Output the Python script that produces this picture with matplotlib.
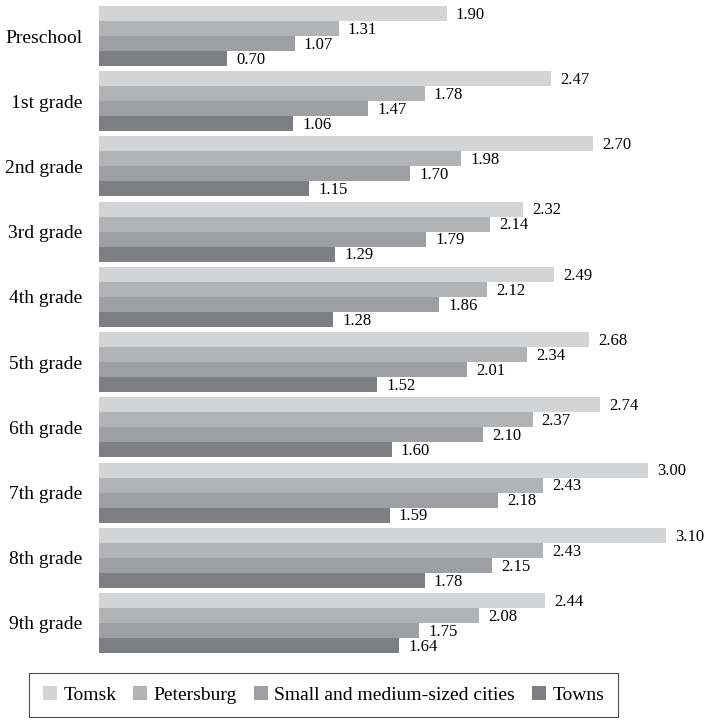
import numpy as np
import matplotlib.pyplot as plt
from matplotlib.patches import Patch

grades = ['Preschool', '1st grade', '2nd grade', '3rd grade', '4th grade',
          '5th grade', '6th grade', '7th grade', '8th grade', '9th grade']
series = ['Tomsk', 'Petersburg', 'Small and medium-sized cities', 'Towns']
tomsk = [1.90, 2.47, 2.70, 2.32, 2.49, 2.68, 2.74, 3.00, 3.10, 2.44]
petersburg = [1.31, 1.78, 1.98, 2.14, 2.12, 2.34, 2.37, 2.43, 2.43, 2.08]
small_cities = [1.07, 1.47, 1.70, 1.79, 1.86, 2.01, 2.10, 2.18, 2.15, 1.75]
towns = [0.70, 1.06, 1.15, 1.29, 1.28, 1.52, 1.60, 1.59, 1.78, 1.64]

colors = ['#d3d4d6', '#b1b3b5', '#9e9fa2', '#7e7f82']

plt.rcParams['font.family'] = ['Liberation Serif', 'DejaVu Serif']

fig = plt.figure(figsize=(7.07, 7.2), dpi=100)
ax = fig.add_axes([99 / 707, (720 - 653) / 720, 1 - 99 / 707, (653 - 6) / 720])

y = np.arange(len(grades))
h = 0.23
for k, (name, vals) in enumerate(zip(series, [tomsk, petersburg, small_cities, towns])):
    pos = y - 1.5 * h + k * h
    ax.barh(pos, vals, height=h, color=colors[k], label=name, linewidth=0)
    for p, v in zip(pos, vals):
        ax.text(v + 0.05, p + 0.02, f'{v:.2f}', va='center', ha='left', fontsize=12)

ax.set_xlim(0, 3.324)
ax.set_ylim(9.46, -0.46)
ax.set_yticks(y)
ax.set_yticklabels(grades, fontsize=14)
ax.tick_params(axis='y', length=0, pad=12)
ax.set_xticks([])
for s in ax.spines.values():
    s.set_visible(False)

handles = [Patch(facecolor=c, edgecolor='none') for c in colors]
leg = fig.legend(handles, series, loc='center', ncol=4, fontsize=14,
                 bbox_to_anchor=(323.5 / 707, 1 - 695 / 720), frameon=True,
                 fancybox=False, edgecolor='#222222', handlelength=0.72,
                 handleheight=0.72, handletextpad=0.35, columnspacing=0.85,
                 borderpad=0.7)
leg.get_frame().set_linewidth(0.8)

fig.savefig('out.png', dpi=100)
